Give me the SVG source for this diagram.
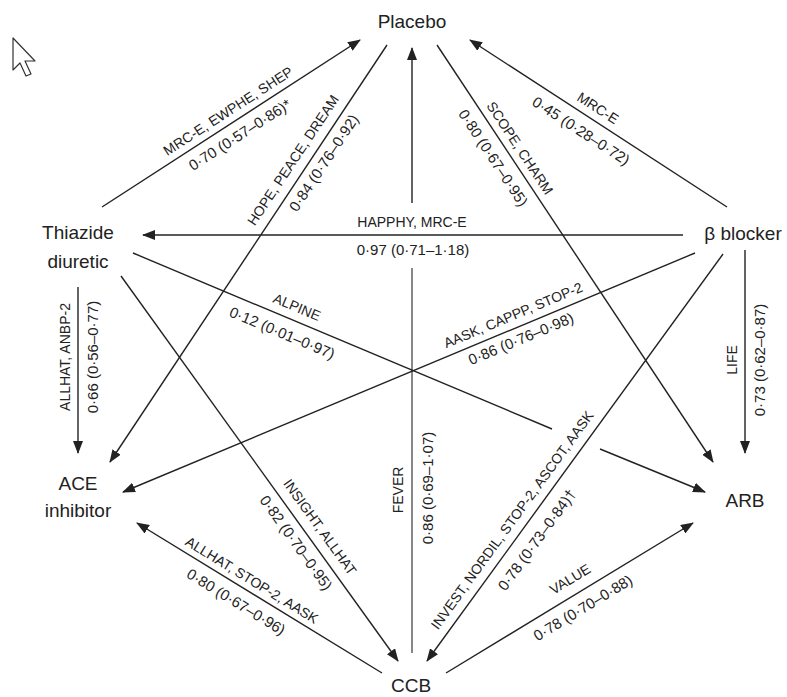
<svg xmlns="http://www.w3.org/2000/svg" width="787" height="697" viewBox="0 0 787 697">
<style>
.node{font-family:"Liberation Sans",Arial,sans-serif;font-size:19px;fill:#222;text-anchor:middle}
.lbl{font-family:"Liberation Sans",Arial,sans-serif;font-size:14px;fill:#222;text-anchor:middle}
.num{font-family:"Liberation Sans",Arial,sans-serif;font-size:15px;fill:#222;text-anchor:middle}
.e{stroke:#222;stroke-width:1.4;fill:none}
.a{marker-end:url(#ah)}
</style>
<defs>
<marker id="ah" viewBox="0 0 13 10" refX="12" refY="5" markerWidth="13" markerHeight="10" markerUnits="userSpaceOnUse" orient="auto">
<path d="M0,0 L13,5 L0,10 z" fill="#222"/>
</marker>
</defs>
<rect width="787" height="697" fill="#fff"/>
<path d="M13,38 L13,70 L20,63 L26,76 L31,74 L25,61 L35,61 Z" fill="#fff" stroke="#333" stroke-width="1.2" stroke-linejoin="round"/>
<g id="connectors">
<line class="e a" x1="102" y1="207" x2="360" y2="40"/>
<line class="e a" x1="387" y1="45" x2="110" y2="462"/>
<line class="e a" x1="412" y1="203" x2="412" y2="48"/>
<line class="e" x1="412" y1="268" x2="412" y2="653" style="stroke:#555"/>
<line class="e a" x1="437" y1="45" x2="713" y2="462"/>
<line class="e a" x1="727" y1="207" x2="470" y2="40"/>
<line class="e a" x1="683" y1="235" x2="143" y2="235"/>
<line class="e a" x1="78" y1="287" x2="78" y2="453"/>
<line class="e" x1="133" y1="253" x2="552" y2="429"/>
<line class="e a" x1="600" y1="449" x2="705" y2="492"/>
<line class="e a" x1="695" y1="253" x2="123" y2="492"/>
<line class="e a" x1="121" y1="276" x2="398" y2="661"/>
<line class="e a" x1="723" y1="254" x2="427" y2="661"/>
<line class="e a" x1="745" y1="250" x2="745" y2="453"/>
<line class="e a" x1="382" y1="673" x2="137" y2="523"/>
<line class="e a" x1="446" y1="673" x2="693" y2="523"/>
</g>
<g id="edge-labels">
<g transform="translate(228,111) rotate(-32.9)"><text class="lbl" dy="5">MRC-E, EWPHE, SHEP</text></g>
<g transform="translate(240,135) rotate(-32.9)"><text class="num" dy="5">0·70 (0·57–0·86)*</text></g>
<g transform="translate(293,160) rotate(-56.4)"><text class="lbl" dy="5">HOPE, PEACE, DREAM</text></g>
<g transform="translate(324,163) rotate(-56.4)"><text class="num" dy="5">0·84 (0·76–0·92)</text></g>
<g transform="translate(520,148) rotate(56.5)"><text class="lbl" dy="5">SCOPE, CHARM</text></g>
<g transform="translate(493,158) rotate(56.5)"><text class="num" dy="5">0·80 (0·67–0·95)</text></g>
<g transform="translate(598,108) rotate(33)"><text class="lbl" dy="5">MRC-E</text></g>
<g transform="translate(581,131) rotate(33)"><text class="num" dy="5">0·45 (0·28–0·72)</text></g>
<text class="lbl" x="412" y="227">HAPPHY, MRC-E</text>
<text class="num" x="413" y="255">0·97 (0·71–1·18)</text>
<g transform="translate(65,357) rotate(-90)"><text class="lbl" dy="5">ALLHAT, ANBP-2</text></g>
<g transform="translate(93,357) rotate(-90)"><text class="num" dy="5">0·66 (0·56–0·77)</text></g>
<g transform="translate(297,307) rotate(22.7)"><text class="lbl" dy="5">ALPINE</text></g>
<g transform="translate(282,333) rotate(22.7)"><text class="num" dy="5">0·12 (0·01–0·97)</text></g>
<g transform="translate(513,315) rotate(-22.7)"><text class="lbl" dy="5">AASK, CAPPP, STOP-2</text></g>
<g transform="translate(521,339) rotate(-22.7)"><text class="num" dy="5">0·86 (0·76–0·98)</text></g>
<g transform="translate(320,527) rotate(54.3)"><text class="lbl" dy="5">INSIGHT, ALLHAT</text></g>
<g transform="translate(296,543) rotate(54.3)"><text class="num" dy="5">0·82 (0·70–0·95)</text></g>
<g transform="translate(512,520) rotate(-54)"><text class="lbl" dy="5">INVEST, NORDIL, STOP-2, ASCOT, AASK</text></g>
<g transform="translate(537,540) rotate(-54)"><text class="num" dy="5">0·78 (0·73–0·84)†</text></g>
<g transform="translate(732,360) rotate(-90)"><text class="lbl" dy="5">LIFE</text></g>
<g transform="translate(760,360) rotate(-90)"><text class="num" dy="5">0·73 (0·62–0·87)</text></g>
<g transform="translate(398,490) rotate(-90)"><text class="lbl" dy="5">FEVER</text></g>
<g transform="translate(428,488) rotate(-90)"><text class="num" dy="5">0·86 (0·69–1·07)</text></g>
<g transform="translate(252,580) rotate(31.5)"><text class="lbl" dy="5">ALLHAT, STOP-2, AASK</text></g>
<g transform="translate(236,602) rotate(31.5)"><text class="num" dy="5">0·80 (0·67–0·96)</text></g>
<g transform="translate(570,579) rotate(-31.3)"><text class="lbl" dy="5">VALUE</text></g>
<g transform="translate(583,608) rotate(-31.3)"><text class="num" dy="5">0·78 (0·70–0·88)</text></g>
</g>
<g id="placebo"><text class="node" x="412" y="28">Placebo</text></g>
<g id="thiazide"><text class="node" x="78" y="239">Thiazide</text><text class="node" x="78" y="268">diuretic</text></g>
<g id="beta-blocker"><text class="node" x="743" y="240">β blocker</text></g>
<g id="ace-inhibitor"><text class="node" x="78" y="490">ACE</text><text class="node" x="78" y="517">inhibitor</text></g>
<g id="arb"><text class="node" x="745" y="507">ARB</text></g>
<g id="ccb"><text class="node" x="411" y="692">CCB</text></g>
</svg>
